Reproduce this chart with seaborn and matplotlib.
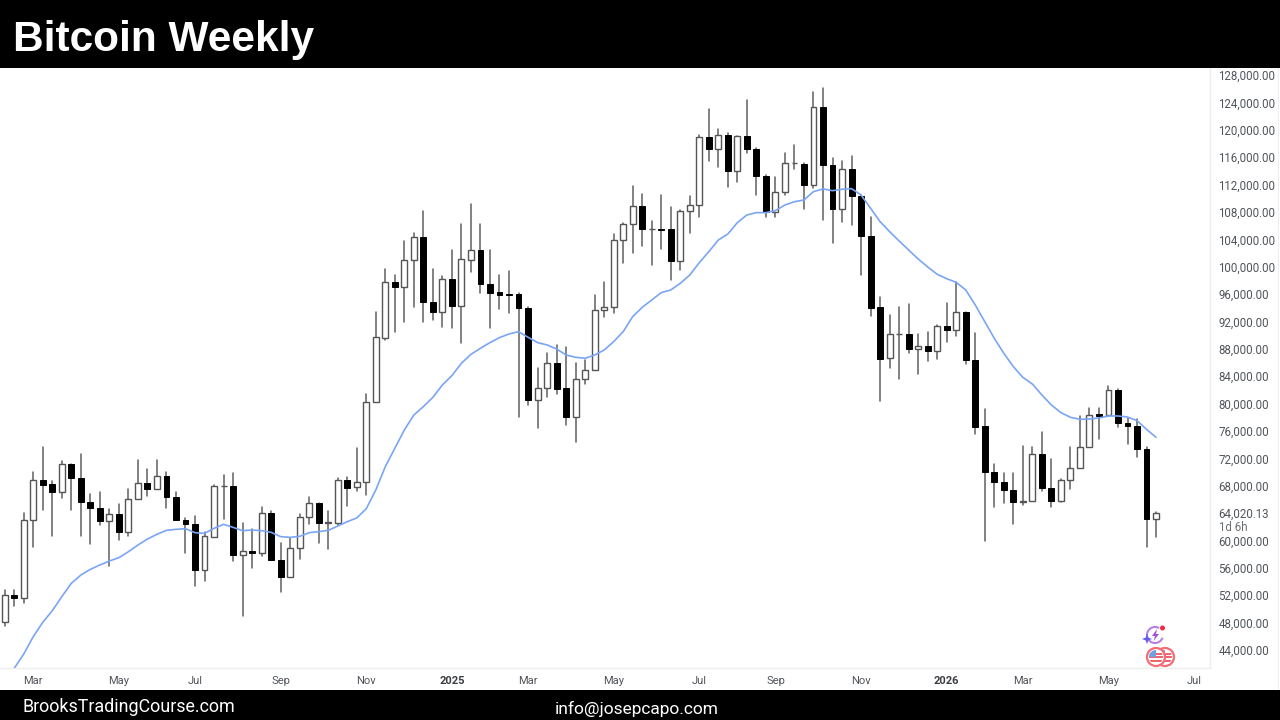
import numpy as np
import pandas as pd
import matplotlib
matplotlib.use("Agg")
import matplotlib.pyplot as plt
import seaborn as sns
from matplotlib.patches import Circle, Rectangle, Wedge, Polygon
from matplotlib.transforms import Affine2D

# Weekly BTC candles, prices in thousands of USD
opens = [48.14,52.03,51.55,62.99,68.83,68.2,67.03,71.12,69.17,65.57,64.74,62.89,63.82,61.29,66.01,68.35,67.57,69.47,66.4,62.99,
         62.45,55.64,60.56,67.91,68.0,57.93,58.51,58.22,64.06,57.1,54.71,58.95,63.38,65.42,62.6,62.6,68.83,67.77,68.5,80.19,
         89.64,97.82,97.04,100.94,104.3,94.85,93.39,98.16,94.31,101.03,102.4,97.48,96.36,96.02,96.02,94.02,80.53,82.33,85.89,82.24,
         78.1,83.55,84.96,93.63,94.07,103.95,106.19,108.87,105.46,105.56,105.46,100.79,108.09,108.97,118.95,117.15,119.24,113.94,119.1,117.25,
         113.25,108.04,110.97,115.11,115.06,111.99,123.34,114.81,108.38,114.33,110.33,104.49,94.07,86.61,90.12,90.17,87.93,88.47,87.64,91.29,
         90.71,93.38,86.37,76.68,70.06,68.6,67.38,65.58,65.77,72.59,67.67,65.77,68.84,70.54,73.61,78.43,78.29,81.99,77.22,76.78,
         73.32,63.09]
highs = [52.76,52.76,63.96,69.95,73.61,68.74,71.56,71.12,72.58,66.74,67.03,64.6,65.28,67.47,71.76,70.39,71.76,69.95,67.03,63.23,
         63.62,61.19,68.15,69.56,69.81,62.6,61.63,64.84,64.35,59.68,60.41,63.92,66.3,65.42,64.26,69.08,69.22,73.47,81.36,93.34,
         99.67,98.79,103.71,104.88,108.14,99.67,98.7,102.45,106.2,109.17,106.29,102.4,98.74,99.38,96.21,94.17,85.16,87.35,88.57,88.32,
         85.89,86.37,95.82,97.82,104.78,106.44,111.79,110.62,106.73,110.43,108.77,108.29,110.33,119.29,122.99,120.07,119.59,119.15,124.36,117.3,
         113.4,113.16,116.66,117.78,115.2,125.53,126.11,115.84,115.4,116.18,110.48,107.31,95.62,92.95,94.07,94.5,90.12,90.41,91.48,94.65,
         97.72,93.38,90.27,79.16,71.13,69.91,69.81,73.85,73.71,75.8,71.86,68.99,73.61,78.19,79.31,79.31,82.57,82.13,77.85,77.75,
         73.71,64.12]
lows = [47.55,50.47,50.82,59.09,64.45,60.65,66.25,64.45,60.65,59.53,62.21,56.32,60.02,60.65,66.01,66.5,67.47,64.79,62.99,58.22,
        53.4,54.13,60.56,63.18,57.0,48.96,55.93,57.73,57.1,52.42,54.61,57.29,62.41,59.68,58.75,62.26,65.04,67.28,66.65,80.19,
        89.3,90.51,91.88,94.07,91.97,92.22,91.15,91.1,88.91,99.28,96.11,91.1,93.87,93.19,77.99,79.85,76.44,81.02,81.41,76.93,
        74.35,82.87,84.96,92.71,93.29,100.59,101.96,102.98,100.25,102.54,98.06,99.52,104.98,107.31,115.5,114.52,111.7,112.43,116.66,110.48,
        107.22,107.22,110.48,114.28,108.48,111.45,106.83,103.42,106.49,106.14,98.79,92.85,80.43,85.15,83.64,87.44,84.28,86.27,86.57,89.05,
        89.93,85.79,75.51,59.98,64.94,65.43,62.41,65.14,65.77,67.28,64.85,65.67,67.57,70.54,73.61,74.78,78.24,76.53,74.05,72.25,
        59.0,60.56]
closes = [52.03,51.59,62.99,68.83,68.1,67.03,71.12,69.17,65.57,64.74,62.84,63.82,61.29,66.01,68.35,67.57,69.47,66.4,62.99,62.45,
          55.64,60.6,68.0,68.0,57.93,58.51,58.22,64.06,57.1,54.66,58.95,63.38,65.42,62.5,62.7,68.83,67.71,68.5,80.24,89.69,
          97.82,97.04,100.94,104.3,94.85,93.39,98.16,94.31,101.08,102.4,97.48,96.21,95.87,95.87,94.02,80.53,82.33,85.89,82.19,78.1,
          83.55,84.96,93.63,94.07,103.95,106.24,108.87,105.51,105.56,105.37,100.79,108.14,108.97,118.95,117.15,119.2,113.99,119.1,117.2,113.25,
          108.0,110.92,115.15,115.2,111.99,123.38,114.81,108.43,114.33,110.33,104.49,94.02,86.57,90.17,90.22,87.93,88.47,87.64,91.29,90.71,
          93.38,86.37,76.63,70.06,68.6,67.38,65.58,65.82,72.59,67.62,65.77,68.84,70.54,73.61,78.38,78.24,81.99,77.22,76.78,73.32,
          63.09,64.02013]
ema20 = [39.13,41.32,43.41,45.95,48.04,49.74,51.79,53.74,54.95,55.78,56.42,57.0,57.49,58.36,59.34,60.21,60.9,61.48,61.63,61.72,
         61.14,61.04,61.77,62.36,61.92,61.43,61.53,61.43,61.19,60.56,60.46,60.6,61.14,61.29,61.48,62.11,62.75,63.29,64.64,67.38,
         70.79,73.47,76.15,78.34,79.56,80.92,82.72,84.09,85.89,87.2,88.08,88.91,89.64,90.17,90.51,89.69,88.91,88.57,87.98,87.1,
         86.76,86.62,87.1,87.83,89.05,90.51,92.71,94.07,95.14,96.21,96.6,97.57,98.79,100.59,102.2,103.9,104.78,106.44,107.56,107.9,
         107.9,108.19,109.02,109.5,109.75,110.97,111.36,111.11,111.31,111.4,110.48,108.53,106.58,105.12,103.76,102.44,101.13,99.96,98.89,98.25,
         97.72,96.6,94.41,91.97,89.54,87.35,85.4,83.84,82.86,81.26,79.8,78.68,78.0,77.7,77.75,77.9,78.19,78.19,78.04,77.51,
         76.24,75.07]

month_ticks = [3, 12, 20, 29, 38, 47, 55, 64, 73, 81, 90, 99, 107, 116, 125]
month_labels = ["Mar", "May", "Jul", "Sep", "Nov", "2025", "Mar", "May", "Jul", "Sep", "Nov", "2026", "Mar", "May", "Jul"]
price_ticks = [44000, 48000, 52000, 56000, 60000, 64020.13, 68000, 72000, 76000, 80000, 84000, 88000, 92000,
               96000, 100000, 104000, 108000, 112000, 116000, 120000, 124000, 128000]
title_text = "Bitcoin Weekly"
site_text = "BrooksTradingCourse.com"
mail_text = "info@josepcapo.com"
countdown_text = "1d 6h"

sns.set_theme(style="white")
W, H = 1280, 720
fig = plt.figure(figsize=(W / 100, H / 100), dpi=100, facecolor="white")


def px_axes(x0, y0, x1, y1):
    return [x0 / W, 1 - y1 / H, (x1 - x0) / W, (y1 - y0) / H]


ax = fig.add_axes(px_axes(0, 68, 1210, 668))
candles = pd.DataFrame({"week": np.arange(len(opens)),
                        "open": np.array(opens) * 1000, "high": np.array(highs) * 1000,
                        "low": np.array(lows) * 1000, "close": np.array(closes) * 1000,
                        "ema": np.array(ema20) * 1000})

# Wicks as one line per week, drawn below the bodies
wicks = candles.melt(id_vars="week", value_vars=["low", "high"], value_name="price")
sns.lineplot(data=wicks, x="week", y="price", units="week", estimator=None,
             color="#666666", linewidth=1.15, ax=ax, zorder=2, legend=False)

rising = candles["close"] >= candles["open"]
bottom = candles[["open", "close"]].min(axis=1)
height = (candles["close"] - candles["open"]).abs()
ax.bar(candles["week"][rising], height[rising], bottom=bottom[rising], width=0.62,
       facecolor="white", edgecolor="#555555", linewidth=1.0, zorder=3)
ax.bar(candles["week"][~rising], height[~rising], bottom=bottom[~rising], width=0.62,
       facecolor="black", edgecolor="black", linewidth=0.7, zorder=3)

sns.lineplot(data=candles, x="week", y="ema", color="#7aa5f5", linewidth=1.2, ax=ax, zorder=4, legend=False)

ax.set_xlim(-0.494, 126.67)
ax.set_ylim(41370, 129030)
ax.set_xlabel("")
ax.set_ylabel("")
for side in ["top", "left"]:
    ax.spines[side].set_visible(False)
for side in ["right", "bottom"]:
    ax.spines[side].set_color("#eeeeee")
    ax.spines[side].set_linewidth(1.0)
ax.grid(False)

ax.set_xticks(month_ticks)
ax.set_xticklabels(month_labels, fontsize=8.0, color="#50555b", family="Roboto")
for lab, txt in zip(ax.get_xticklabels(), month_labels):
    if txt.isdigit():
        lab.set_fontweight("bold")
        lab.set_color("#3a3d42")
ax.tick_params(axis="x", length=0, pad=6)

ax.yaxis.tick_right()
ax.set_yticks(price_ticks)
ax.set_yticklabels([f"{p:,.2f}" for p in price_ticks], fontsize=8.3, color="#50555b", family="Roboto")
for lab in ax.get_yticklabels():
    lab.set_verticalalignment("center_baseline")
ax.tick_params(axis="y", length=0, pad=6)

# Header, footer and the remaining chrome are laid out in figure pixels
pix = Affine2D().scale(1, -1).translate(0, H) + Affine2D().scale(fig.dpi / 100)
fig.add_artist(Rectangle((0, 0), W, 68, transform=pix, facecolor="black", edgecolor="none"))
fig.add_artist(Rectangle((0, 690), W, 30, transform=pix, facecolor="black", edgecolor="none"))
fig.add_artist(Rectangle((1277.5, 68), 1, 622, transform=pix, facecolor="#eeeeee", edgecolor="none"))

fig.text(13, 35, title_text, transform=pix, color="white", fontsize=30.5, fontweight="bold",
         family="Liberation Sans", ha="left", va="center_baseline")
fig.text(23, 705, site_text, transform=pix, color="white", fontsize=12.9, family="Roboto",
         ha="left", va="center_baseline")
fig.text(555, 707, mail_text, transform=pix, color="white", fontsize=12.5, family="Roboto",
         ha="left", va="center_baseline")
fig.text(1219, 526, countdown_text, transform=pix, color="#6a6f75", fontsize=8.3, family="Roboto",
         ha="left", va="center_baseline")

# Small badge icons at the lower right of the chart
purple = "#b57be6"
fig.add_artist(Wedge((1155, 635), 9, 20, 300, width=2.0, transform=pix, facecolor=purple, edgecolor="none"))
fig.add_artist(Polygon([(1157, 629), (1152, 636), (1155, 636), (1153.5, 641), (1159, 634), (1156, 634)],
                       transform=pix, facecolor="#a14fe0", edgecolor="none"))
fig.add_artist(Polygon([(1147, 634), (1148.4, 637.6), (1152, 639), (1148.4, 640.4), (1147, 644),
                        (1145.6, 640.4), (1142, 639), (1145.6, 637.6)],
                       transform=pix, facecolor="#6a5cf0", edgecolor="none"))
fig.add_artist(Circle((1162.5, 628), 2.5, transform=pix, facecolor="#ee2b4a", edgecolor="none"))
for cx, zo in [(1165, 5), (1156, 6)]:
    fig.add_artist(Circle((cx, 657), 9, transform=pix, facecolor="white", edgecolor="#f26d78", linewidth=1.6, zorder=zo))
    disc = Circle((cx, 657), 7, transform=pix, facecolor="white", edgecolor="none", zorder=zo)
    fig.add_artist(disc)
    for yy in (653.5, 657, 660.5):
        bar = Rectangle((cx - 7, yy - 1.0), 14, 2.0, transform=pix, facecolor="#ef6470", edgecolor="none", zorder=zo)
        bar.set_clip_path(disc)
        fig.add_artist(bar)
    canton = Rectangle((cx - 7, 650), 7, 6.5, transform=pix, facecolor="#6f9fe3", edgecolor="none", zorder=zo)
    canton.set_clip_path(disc)
    fig.add_artist(canton)

fig.savefig("out.png", dpi=100, facecolor="white")
